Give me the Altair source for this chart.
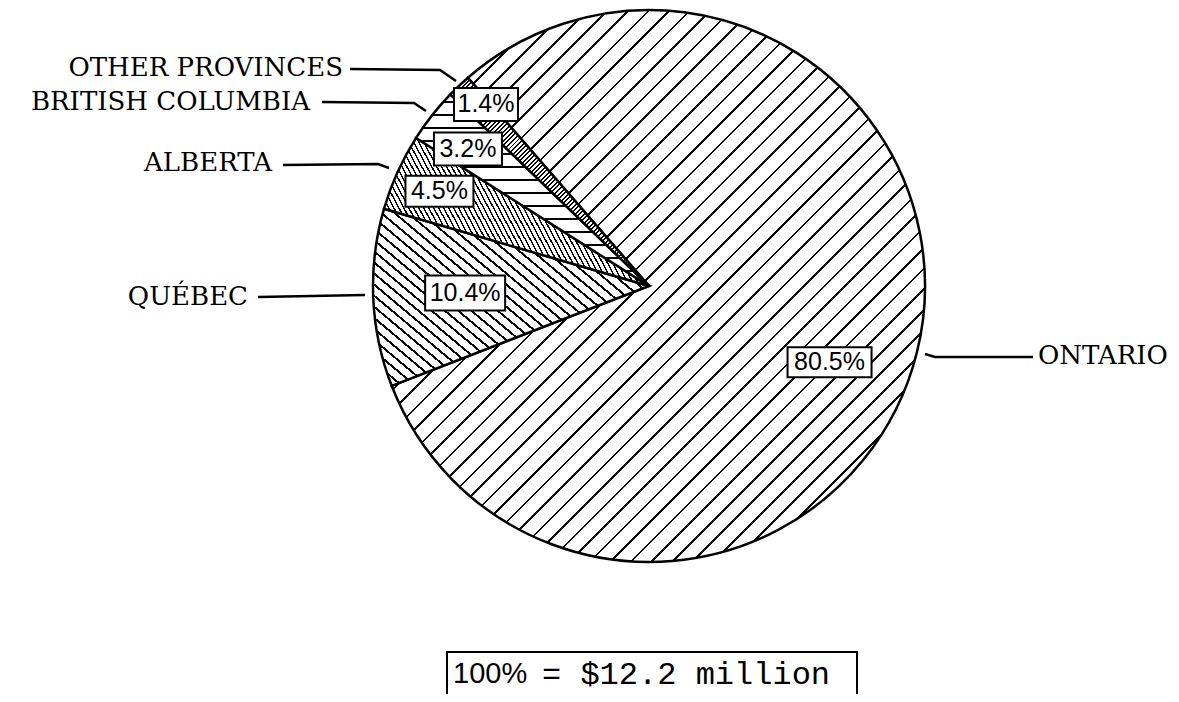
import math
import altair as alt
import pandas as pd

# ---------------- data ----------------
PROVINCES = ["ONTARIO", "QUÉBEC", "ALBERTA", "BRITISH COLUMBIA", "OTHER PROVINCES"]
SHARES = [80.5, 10.4, 4.5, 3.2, 1.4]
SHARE_LABELS = ["80.5%", "10.4%", "4.5%", "3.2%", "1.4%"]
NOTE_PARTS = ["100%", "= $12.2 million"]

# ---------------- layout (pixels) ----------------
W, H = 1163, 686            # chart size
CX, CY = 641, 278           # pie centre inside the chart
R = 276                     # pie radius
START_DEG = 319.0           # where the first slice (Ontario) starts, clockwise from 12 o'clock
START_RAD = math.radians(START_DEG)

# percent label placement: angle shift from slice middle, distance from centre, box size
LABEL_SHIFT_DEG = [9.0, 0.3, 0.0, -1.1, 1.6]
LABEL_R = [196, 184, 230, 227, 244]
BOX_W = [84, 80, 68, 68, 64]
BOX_H = [30, 35, 31, 33, 33]

# hatch styles per slice: (line angle deg, period px, line width px)
HATCH = [(45, 14.5, 2.0), (-40, 8.5, 2.0), (-62, 4.4, 1.4), (0, 13.0, 1.8), (45, 3.2, 1.4)]

# province name anchors (page px) and alignment
NAME_ANCHOR = [(1038, 356, "left"), (248, 297, "right"), (272, 163, "right"),
               (310, 102, "right"), (343, 68, "right")]
# leader lines (page px)
LEADERS = [
    [(925, 354), (935, 357), (1033, 357)],
    [(258, 297), (365, 295)],
    [(283, 165), (378, 164), (389, 168)],
    [(322, 102), (414, 103), (426, 111)],
    [(350, 69), (440, 70), (456, 81)],
]
NOTE_BOX = (447, 652, 857, 712)     # page px
NOTE_TEXT_POS = [(453, 674), (542, 674)]

PIE_PAGE = (CX + 8, CY + 8)


def off(px, py):
    return px - PIE_PAGE[0], PIE_PAGE[1] - py


XS = alt.Scale(domain=[-CX, W - CX], range=[0, W], nice=False, zero=False)
YS = alt.Scale(domain=[-(H - CY), CY], range=[H, 0], nice=False, zero=False)
TS = alt.Scale(domain=[0, 100], range=[START_RAD, START_RAD + 2 * math.pi])


def wedge_bbox(a0, a1):
    pts = [(0.0, 0.0)]
    n = 1440
    for i in range(n + 1):
        a = a0 + (a1 - a0) * i / n
        pts.append((R * math.sin(a), -R * math.cos(a)))
    xs = [p[0] for p in pts]
    ys = [p[1] for p in pts]
    return max(xs) - min(xs), max(ys) - min(ys)


def stripes(bw, bh, line_deg, period, lw, fg="black", bg="white"):
    a = math.radians(line_deg)
    nx, ny = math.sin(a), math.cos(a)
    u1 = 0.0 if nx >= 0 else 1.0
    v1 = 0.0 if ny >= 0 else 1.0
    D = abs(nx) * bw + abs(ny) * bh
    k = D / (nx * nx * bw * bw + ny * ny * bh * bh)
    u2 = u1 + k * nx * bw
    v2 = v1 + k * ny * bh
    stops = [{"offset": 0, "color": bg}]
    step = period / D
    w = lw / D
    t = step / 2
    while t + w < 1:
        t0, t1 = round(t, 6), round(t + w, 6)
        stops += [{"offset": t0, "color": bg}, {"offset": t0, "color": fg},
                  {"offset": t1, "color": fg}, {"offset": t1, "color": bg}]
        t += step
    stops.append({"offset": 1, "color": bg})
    return {"gradient": "linear", "x1": u1, "y1": v1, "x2": u2, "y2": v2, "stops": stops}


df = pd.DataFrame({
    "province": PROVINCES, "share": SHARES, "label": SHARE_LABELS,
    "order": list(range(len(PROVINCES))),
    "shift": LABEL_SHIFT_DEG, "lr": LABEL_R, "bw": BOX_W, "bh": BOX_H,
})

base = alt.Chart(df).transform_window(
    end="sum(share)", sort=[alt.SortField("order")], frame=[None, 0]
).transform_calculate(start="datum.end - datum.share")

layers = []
cum = 0.0
for i, p in enumerate(PROVINCES):
    a0 = START_RAD + 2 * math.pi * cum / 100
    cum += SHARES[i]
    a1 = START_RAD + 2 * math.pi * cum / 100
    bw, bh = wedge_bbox(a0, a1)
    ang, per, lw = HATCH[i]
    fill = stripes(bw, bh, ang, per, lw)
    layers.append(
        base.transform_filter(alt.datum.province == p)
        .mark_arc(outerRadius=R, fill=fill, stroke="black", strokeWidth=2.5)
        .encode(
            theta=alt.Theta("start:Q", scale=TS, stack=None),
            theta2="end:Q",
            x=alt.XDatum(0, scale=XS, axis=None),
            y=alt.YDatum(0, scale=YS, axis=None),
        )
    )

lab = base.transform_calculate(
    ang=f"{START_RAD} + 2*PI*((datum.start + datum.end)/2)/100 + datum.shift*PI/180"
).transform_calculate(
    lx="datum.lr*sin(datum.ang)", ly="datum.lr*cos(datum.ang)"
).transform_calculate(
    bx1="datum.lx - datum.bw/2", bx2="datum.lx + datum.bw/2",
    by1="datum.ly - datum.bh/2", by2="datum.ly + datum.bh/2",
)
layers.append(
    lab.mark_rect(fill="white", stroke="black", strokeWidth=2).encode(
        x=alt.X("bx1:Q", scale=XS, axis=None), x2="bx2:Q",
        y=alt.Y("by1:Q", scale=YS, axis=None), y2="by2:Q",
    )
)
layers.append(
    lab.mark_text(font="Liberation Sans", fontSize=25, align="center", baseline="middle",
                  color="black").encode(
        x=alt.X("lx:Q", scale=XS, axis=None),
        y=alt.Y("ly:Q", scale=YS, axis=None),
        text="label:N",
    )
)

# province names
names = pd.DataFrame({
    "name": PROVINCES,
    "ox": [off(a[0], a[1])[0] for a in NAME_ANCHOR],
    "oy": [off(a[0], a[1])[1] for a in NAME_ANCHOR],
    "side": [a[2] for a in NAME_ANCHOR],
})
for side in ["left", "right"]:
    layers.append(
        alt.Chart(names).transform_filter(alt.datum.side == side)
        .mark_text(font="DejaVu Serif", fontSize=26, align=side, baseline="middle", color="black")
        .encode(x=alt.X("ox:Q", scale=XS, axis=None), y=alt.Y("oy:Q", scale=YS, axis=None),
                text="name:N")
    )

# leader lines
rows = []
for i, pts in enumerate(LEADERS):
    for j, (px, py) in enumerate(pts):
        ox, oy = off(px, py)
        rows.append({"id": i, "seq": j, "ox": ox, "oy": oy})
lead = pd.DataFrame(rows)
layers.append(
    alt.Chart(lead).mark_line(color="black", strokeWidth=2.5).encode(
        x=alt.X("ox:Q", scale=XS, axis=None), y=alt.Y("oy:Q", scale=YS, axis=None),
        detail="id:N", order="seq:Q",
    )
)

# note box
bx0, by0 = off(NOTE_BOX[0], NOTE_BOX[1])
bx1, by1 = off(NOTE_BOX[2], NOTE_BOX[3])
note_box = pd.DataFrame({"x1": [bx0], "x2": [bx1], "y1": [by0], "y2": [by1]})
layers.append(
    alt.Chart(note_box).mark_rect(fill="white", stroke="black", strokeWidth=2).encode(
        x=alt.X("x1:Q", scale=XS, axis=None), x2="x2:Q",
        y=alt.Y("y1:Q", scale=YS, axis=None), y2="y2:Q",
    )
)
note = pd.DataFrame({
    "t": NOTE_PARTS,
    "ox": [off(*p)[0] for p in NOTE_TEXT_POS],
    "oy": [off(*p)[1] for p in NOTE_TEXT_POS],
    "font": ["Liberation Sans", "Liberation Mono"],
})
layers.append(
    alt.Chart(note).transform_filter(alt.datum.font == "Liberation Sans")
    .mark_text(font="Liberation Sans", fontSize=29, align="left", baseline="middle", color="black")
    .encode(x=alt.X("ox:Q", scale=XS, axis=None), y=alt.Y("oy:Q", scale=YS, axis=None), text="t:N")
)
layers.append(
    alt.Chart(note).transform_filter(alt.datum.font == "Liberation Mono")
    .mark_text(font="Liberation Mono", fontSize=32, align="left", baseline="middle", color="black")
    .encode(x=alt.X("ox:Q", scale=XS, axis=None), y=alt.Y("oy:Q", scale=YS, axis=None), text="t:N")
)

chart = alt.layer(*layers).properties(
    width=W, height=H, padding=0, autosize=alt.AutoSizeParams(type="none"),
    background="white",
).configure_view(stroke=None)

chart.save("out.html", embed_options={"renderer": "svg", "actions": False})
